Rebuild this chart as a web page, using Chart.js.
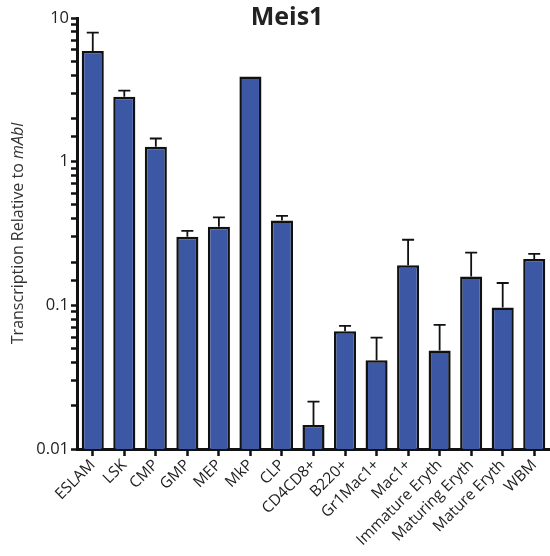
<!DOCTYPE html>
<html>
<head>
<meta charset="utf-8">
<script src="https://cdn.jsdelivr.net/npm/chart.js@4"></script>
<style>
  html, body { margin: 0; padding: 0; background: #fff; }
  #wrap { width: 550px; height: 556px; }
</style>
</head>
<body>
<div id="wrap"><canvas id="bar-chart"></canvas></div>
<script>
const labels = ['ESLAM', 'LSK', 'CMP', 'GMP', 'MEP', 'MkP', 'CLP', 'CD4CD8+', 'B220+',
  'Gr1Mac1+', 'Mac1+', 'Immature Eryth', 'Maturing Eryth', 'Mature Eryth', 'WBM'];
const means = [5.9, 2.83, 1.27, 0.30, 0.353, 3.92, 0.389, 0.0147, 0.066,
  0.0414, 0.190, 0.0484, 0.159, 0.0964, 0.21];
const errTops = [7.9, 3.12, 1.45, 0.33, 0.41, 3.95, 0.42, 0.0214, 0.0719,
  0.0596, 0.286, 0.073, 0.233, 0.143, 0.228];
const decades = [0.01, 0.1, 1, 10];

const FONT = "'Open Sans', 'DejaVu Sans', sans-serif";

// upper error whiskers with caps
const errorBars = {
  id: 'errorBars',
  afterDatasetsDraw(chart) {
    const { ctx, scales: { y } } = chart;
    const meta = chart.getDatasetMeta(0);
    ctx.save();
    ctx.strokeStyle = '#111';
    ctx.lineWidth = 1.8;
    meta.data.forEach((bar, i) => {
      const yTop = y.getPixelForValue(errTops[i]);
      const yBar = y.getPixelForValue(means[i]);
      if (yBar - yTop < 0.5) return;
      ctx.beginPath();
      ctx.moveTo(bar.x, yBar);
      ctx.lineTo(bar.x, yTop);
      ctx.moveTo(bar.x - 6, yTop);
      ctx.lineTo(bar.x + 6, yTop);
      ctx.stroke();
    });
    ctx.restore();
  }
};

// heading and the y axis caption (with italic gene name)
const captions = {
  id: 'captions',
  afterDraw(chart) {
    const { ctx, chartArea } = chart;
    ctx.save();
    ctx.fillStyle = '#222';
    ctx.font = `bold 25px ${FONT}`;
    ctx.textAlign = 'center';
    ctx.textBaseline = 'middle';
    ctx.fillText('Meis1', 287, 18);

    const cy = (chartArea.top + chartArea.bottom) / 2;
    ctx.translate(18, cy);
    ctx.rotate(-Math.PI / 2);
    ctx.fillStyle = '#333';
    const plain = 'Transcription Relative to ';
    const ital = 'mAbl';
    ctx.font = `16px ${FONT}`;
    const w1 = ctx.measureText(plain).width;
    ctx.font = `italic 16px ${FONT}`;
    const w2 = ctx.measureText(ital).width;
    const x0 = -(w1 + w2) / 2;
    ctx.textAlign = 'left';
    ctx.font = `16px ${FONT}`;
    ctx.fillText(plain, x0, 0);
    ctx.font = `italic 16px ${FONT}`;
    ctx.fillText(ital, x0 + w1, 0);
    ctx.restore();
  }
};

new Chart(document.getElementById('bar-chart'), {
  type: 'bar',
  data: {
    labels,
    datasets: [{
      label: 'Meis1',
      data: means,
      backgroundColor: '#3c58a5',
      borderColor: '#111',
      borderWidth: 2.5,
      borderSkipped: 'bottom',
      barPercentage: 0.7,
      categoryPercentage: 1
    }]
  },
  options: {
    responsive: true,
    maintainAspectRatio: false,
    animation: false,
    layout: { padding: { left: 0, right: 0, top: 18, bottom: 0 } },
    plugins: {
      legend: { display: false },
      title: { display: false },
      tooltip: { enabled: false }
    },
    scales: {
      x: {
        grid: { display: true, drawOnChartArea: false, offset: false, tickLength: 7, tickWidth: 2.5, tickColor: '#111' },
        border: { display: true, color: '#111', width: 3 },
        ticks: {
          color: '#222',
          font: { family: FONT, size: 15.5 },
          minRotation: 45,
          maxRotation: 45,
          autoSkip: false,
          padding: 0
        },
        afterFit(scale) { scale.height = 107; }
      },
      y: {
        type: 'logarithmic',
        min: 0.01,
        max: 10,
        grid: { display: true, drawOnChartArea: false, tickLength: 6, tickWidth: 2.5, tickColor: '#111' },
        border: { display: true, color: '#111', width: 3 },
        ticks: {
          color: '#222',
          font: { family: FONT, size: 16.5 },
          autoSkip: false,
          padding: 2,
          callback: (v) => decades.includes(Number(v)) ? String(Number(v)) : ''
        },
        afterFit(scale) { scale.width = 77; }
      }
    }
  },
  plugins: [errorBars, captions]
});
</script>
</body>
</html>
